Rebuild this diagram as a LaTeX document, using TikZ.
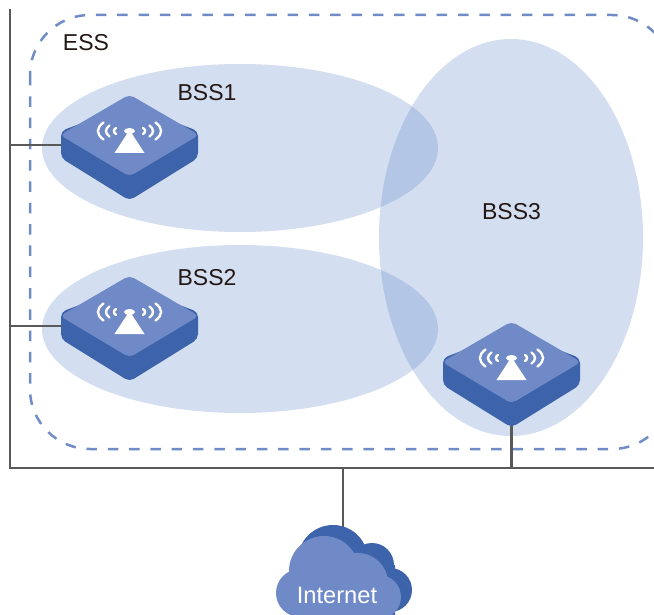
\documentclass[tikz,border=0pt]{standalone}
\usepackage{fontspec}
\setmainfont{Liberation Sans}
\usetikzlibrary{shapes.geometric}
\definecolor{zone}{HTML}{6C91CD}
\definecolor{apdark}{HTML}{3D63AB}
\definecolor{aplight}{HTML}{6F8AC6}
\definecolor{wire}{HTML}{595959}
\definecolor{dash}{HTML}{6F8CC7}
\definecolor{labeltext}{HTML}{231815}
\tikzset{
  zonefill/.style={ellipse,fill=zone,fill opacity=0.3,inner sep=0,outer sep=0},
  wireline/.style={draw=wire,line width=2.8pt},
  essline/.style={draw=dash,line width=2.5pt,dash pattern=on 10.5pt off 10.8pt},
  apbox/.style={rectangle,minimum width=137pt,minimum height=103pt,inner sep=0,outer sep=0},
  wave/.style={draw=white,line width=2.4pt,line cap=round},
  lbl/.style={text=labeltext,font=\fontsize{23pt}{25pt}\selectfont,inner sep=0},
}
\newcommand{\apdraw}[2]{%
  \begin{scope}[shift={(#1,#2)}]
    \fill[apdark,rounded corners=5pt] (-68.5,-4) -- (-68.5,23) -- (0,65.5) -- (68.5,23) -- (68.5,-4) -- (0,-30) -- cycle;
    \fill[aplight,rounded corners=5pt] (-69.5,0) -- (0,-40.5) -- (69.5,0) -- (0,41.5) -- cycle;
    \fill[white] (0,-5) -- (15,18) -- (-15,18) -- cycle;
    \fill[white] (0,-4) ellipse (5.5pt and 3pt);
    \foreach \s in {-1,1}{
      \draw[wave] (\s*26,-12.5) .. controls (\s*33.5,-7) and (\s*33.5,-1) .. (\s*26,4.5);
      \draw[wave] (\s*20,-9.5) .. controls (\s*24.7,-6) and (\s*24.7,-2) .. (\s*20,1.5);
      \draw[wave] (\s*13.5,-7) .. controls (\s*16.2,-5.5) and (\s*16.2,-2.5) .. (\s*13.5,-1);
    }
  \end{scope}}
\begin{document}
\begin{tikzpicture}[x=1pt,y=-1pt]
\useasboundingbox (0,0) rectangle (654,615);
\clip (0,0) rectangle (654,615);
\node[zonefill,minimum width=396pt,minimum height=168pt] (bss1) at (240,148) {};
\node[zonefill,minimum width=396pt,minimum height=168pt] (bss2) at (240,329) {};
\node[zonefill,minimum width=264pt,minimum height=397pt] (bss3) at (511,237.5) {};
\draw[essline,rounded corners=60pt] (30,15) rectangle (672,449);
\node[apbox] (ap1) at (129.5,147.5) {};
\node[apbox] (ap2) at (129.5,328.5) {};
\node[apbox] (ap3) at (511.5,374.5) {};
\coordinate (bustop) at (10,9);
\coordinate (buscorner) at (10,468);
\coordinate (busend) at (654,468);
\coordinate (tap1) at (10,145);
\coordinate (tap2) at (10,326);
\coordinate (tapnet) at (343,468);
\coordinate (cloudtop) at (343,535);
\draw[wireline] (bustop) -- (buscorner) -- (busend);
\draw[wireline] (tap1) -- (tap1 -| ap1.west);
\draw[wireline] (tap2) -- (tap2 -| ap2.west);
\draw[wireline] (tapnet) -- (cloudtop);
\draw[wireline] (ap3.center) -- (ap3.center |- busend);
\apdraw{129.5}{135}
\apdraw{129.5}{316}
\apdraw{511.5}{362}
% cloud, back
\fill[apdark] (333,560) circle (35pt) (372,565) circle (22pt) (390,590) circle (22pt) (300,565) rectangle (395,625) (350,545) rectangle (370,570);
% cloud, front
\fill[aplight] (324,571) circle (35pt) (358,583) circle (30pt) (379,597) circle (22pt) (300,593) circle (24pt) (300,590) rectangle (385,625);
\node[lbl] (ess) at (86,43) {ESS};
\node[lbl] (l1) at (207,93) {BSS1};
\node[lbl] (l2) at (207,278) {BSS2};
\node[lbl] (l3) at (511.5,212) {BSS3};
\node[lbl,text=white,font=\fontsize{23.7pt}{25pt}\selectfont] (inet) at (337,595) {Internet};
\end{tikzpicture}
\end{document}
